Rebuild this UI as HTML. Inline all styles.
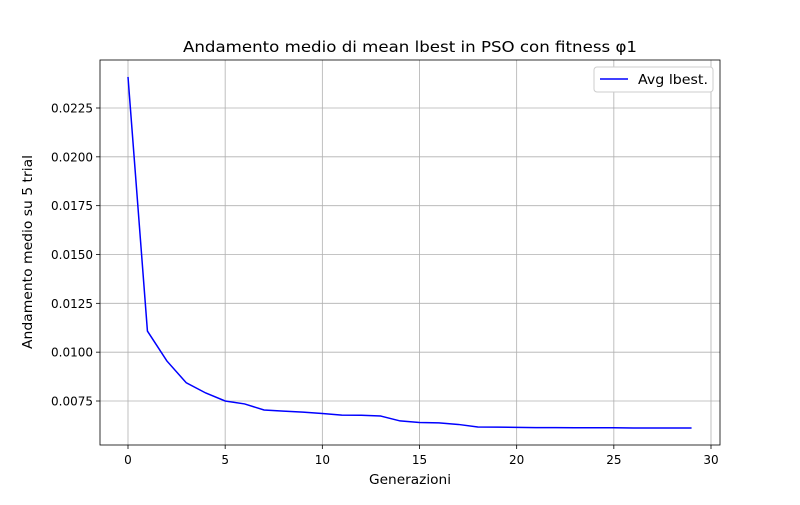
<!DOCTYPE html>
<html><head><meta charset="utf-8"><style>
body{margin:0;background:#fff;}
svg{font-family:"DejaVu Sans","Liberation Sans",sans-serif;}
</style></head><body>
<svg id="chart" width="800" height="500"></svg>
<script>
const xs=[0,1,2,3,4,5,6,7,8,9,10,11,12,13,14,15,16,17,18,19,20,21,22,23,24,25,26,27,28,29];
const ys=[0.02409,0.01108,0.00955,0.00843,0.00791,0.00750,0.00735,0.00704,0.00698,0.00693,0.00686,0.00678,0.00677,0.00673,0.00648,0.00640,0.00638,0.00630,0.00617,0.00616,0.00615,0.00614,0.00614,0.00613,0.00613,0.00613,0.00612,0.00612,0.00612,0.00612];
const xTicks=[0,5,10,15,20,25,30];
const yTicks=[0.0075,0.0100,0.0125,0.0150,0.0175,0.0200,0.0225];
const L=100,R=720,T=60,B=445;
const X=v=>128+v*(711-128)/30;
const Y=v=>401-(v-0.0075)*(293/0.015);
const svg=document.getElementById('chart');
const NS='http://www.w3.org/2000/svg';
function mk(tag,attrs,parent){const e=document.createElementNS(NS,tag);for(const k in attrs)e.setAttribute(k,attrs[k]);(parent||svg).appendChild(e);return e;}
const grid=mk('g',{});


xTicks.forEach(t=>{
  mk('line',{x1:X(t),x2:X(t),y1:T,y2:B,stroke:'#b0b0b0','stroke-width':0.8},grid);
  mk('line',{x1:X(t),x2:X(t),y1:B,y2:B+4,stroke:'#000','stroke-width':0.8});
  const tx=mk('text',{x:X(t),y:B+19,'text-anchor':'middle','font-size':12});
  tx.textContent=t;
  
  
});
yTicks.forEach(t=>{
  mk('line',{x1:L,x2:R,y1:Y(t),y2:Y(t),stroke:'#b0b0b0','stroke-width':0.8},grid);
  mk('line',{x1:L-4,x2:L,y1:Y(t),y2:Y(t),stroke:'#000','stroke-width':0.8});
  const tx=mk('text',{x:L-7,y:Y(t)+4.5,'text-anchor':'end','font-size':12});
  tx.textContent=t.toFixed(4);
  
  
});
const line=mk('polyline',{points:xs.map((x,i)=>X(x)+','+Y(ys[i])).join(' '),fill:'none',stroke:'#0000ff','stroke-width':1.5});


const frame=mk('rect',{x:L,y:T,width:R-L,height:B-T,fill:'none',stroke:'#000','stroke-width':0.8});


const title=mk('text',{x:410,y:52,'text-anchor':'middle','font-size':15.5,textLength:454,lengthAdjust:'spacingAndGlyphs'});
title.textContent='Andamento medio di mean lbest in PSO con fitness φ1';


const xl=mk('text',{x:410,y:484,'text-anchor':'middle','font-size':13.5,textLength:82,lengthAdjust:'spacingAndGlyphs'});
xl.textContent='Generazioni';


const yl=mk('text',{x:0,y:0,'text-anchor':'middle','font-size':13.5,textLength:194,lengthAdjust:'spacingAndGlyphs',transform:'translate(32,252) rotate(-90)'});
yl.textContent='Andamento medio su 5 trial';


const lg=mk('g',{});


mk('rect',{x:594,y:67,width:119,height:25,rx:3,fill:'#fff',stroke:'#ccc','stroke-width':1},lg);
mk('line',{x1:600,x2:628,y1:79,y2:79,stroke:'#0000ff','stroke-width':1.5},lg);
const lt=mk('text',{x:638,y:84,'font-size':13.5,textLength:70,lengthAdjust:'spacingAndGlyphs'},lg);
lt.textContent='Avg lbest.';


</script>
</body></html>
